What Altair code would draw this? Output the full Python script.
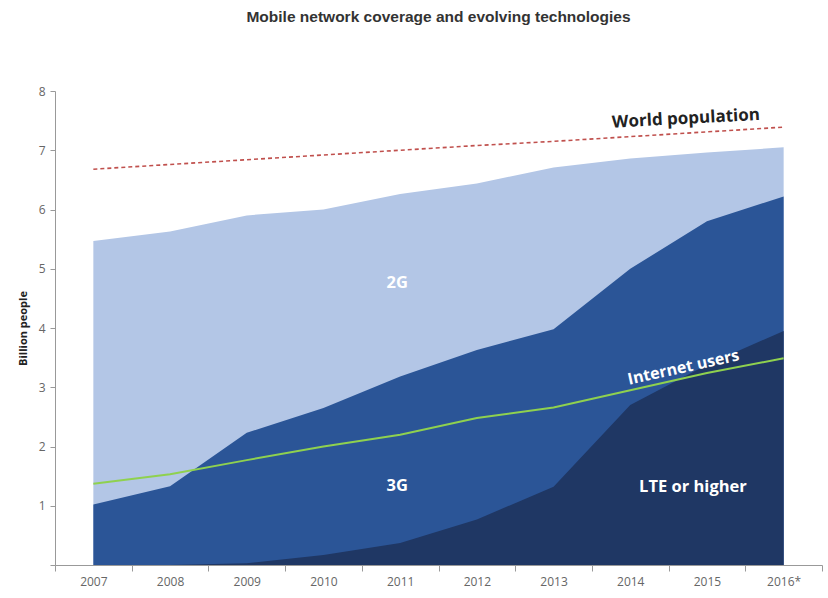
import altair as alt
import pandas as pd

years = ["2007", "2008", "2009", "2010", "2011", "2012", "2013", "2014", "2015", "2016"]
cov_2g = [5.47, 5.63, 5.90, 6.00, 6.26, 6.44, 6.71, 6.86, 6.96, 7.05]
cov_3g = [1.02, 1.33, 2.23, 2.65, 3.18, 3.63, 3.98, 5.00, 5.80, 6.22]
cov_lte = [0.0, 0.0, 0.03, 0.17, 0.37, 0.77, 1.32, 2.70, 3.38, 3.95]
internet = [1.37, 1.53, 1.77, 2.00, 2.20, 2.48, 2.66, 2.95, 3.24, 3.49]
population = [6.68, 6.76, 6.84, 6.92, 7.00, 7.08, 7.15, 7.23, 7.31, 7.39]

df = pd.DataFrame({
    "year": years, "g2": cov_2g, "g3": cov_3g, "lte": cov_lte,
    "internet": internet, "pop": population,
})

xscale = alt.Scale(type="band", domain=years, paddingInner=0, paddingOuter=0)
xaxis = alt.Axis(
    title=None, tickBand="extent", domainColor="#999", tickColor="#999",
    tickSize=6, labelColor="#666", labelFont="Open Sans", labelFontSize=12,
    labelPadding=5, grid=False, labelAngle=0,
    labelExpr="datum.value == '2016' ? '2016*' : datum.value",
)
yscale = alt.Scale(domain=[0, 8], nice=False)
yaxis = alt.Axis(
    title="Billion people", values=[0, 1, 2, 3, 4, 5, 6, 7, 8], format="d",
    labelExpr="datum.value == 0 ? '' : datum.label",
    domainColor="#999", tickColor="#999", tickSize=5, labelColor="#666",
    labelFont="Open Sans", labelFontSize=12, labelPadding=5, grid=False,
    titleFont="Open Sans", titleFontWeight="bold", titleFontSize=11,
    titleColor="#222", titlePadding=10,
)

X = alt.X("year:O", scale=xscale, axis=xaxis, bandPosition=0.5)
Xn = alt.X("year:O", scale=xscale, bandPosition=0.5)

base = alt.Chart(df)
a2 = base.mark_area(color="#b3c6e6", opacity=1).encode(x=X, y=alt.Y("g2:Q", scale=yscale, axis=yaxis))
a3 = base.mark_area(color="#2b5597", opacity=1).encode(x=Xn, y=alt.Y("g3:Q"))
al = base.mark_area(color="#1f3764", opacity=1).encode(x=Xn, y=alt.Y("lte:Q"))
li = base.mark_line(color="#8fd14f", strokeWidth=2).encode(x=Xn, y=alt.Y("internet:Q"))
lp = base.mark_line(color="#c0504d", strokeWidth=1.6, strokeDash=[4, 3]).encode(x=Xn, y=alt.Y("pop:Q"))

ann = pd.DataFrame({
    "year": ["2011", "2011", "2015", "2015", "2015"],
    "val": [4.76, 1.33, 1.32, 3.42, 7.55],
    "label": ["2G", "3G", "LTE or higher", "Internet users", "World population"],
})

def txt(i, color, size, angle=0, dx=0):
    return alt.Chart(ann.iloc[[i]]).mark_text(
        font="Open Sans", fontWeight="bold", fontSize=size, color=color,
        angle=angle, dx=dx, align="center", baseline="middle",
    ).encode(x=Xn, y=alt.Y("val:Q"), text="label:N")

texts = [
    txt(0, "white", 16.5, dx=-3),
    txt(1, "white", 16.5, dx=-3),
    txt(2, "white", 16.5, dx=-14),
    txt(3, "white", 16, angle=347.5, dx=-24),
    txt(4, "#222222", 17, angle=357, dx=-21),
]

chart = alt.layer(a2, a3, al, li, lp, *texts).properties(
    width=767, height=474,
    autosize=alt.AutoSizeParams(type="none"),
    padding={"left": 55, "top": 91, "right": 6, "bottom": 33},
    title=alt.TitleParams(
        "Mobile network coverage and evolving technologies",
        font="Liberation Sans", fontSize=15.5, fontWeight="bold", color="#333",
        anchor="middle", offset=60,
    ),
).configure_view(stroke=None)

chart.save("out.html", embed_options={"renderer": "svg", "actions": False})
